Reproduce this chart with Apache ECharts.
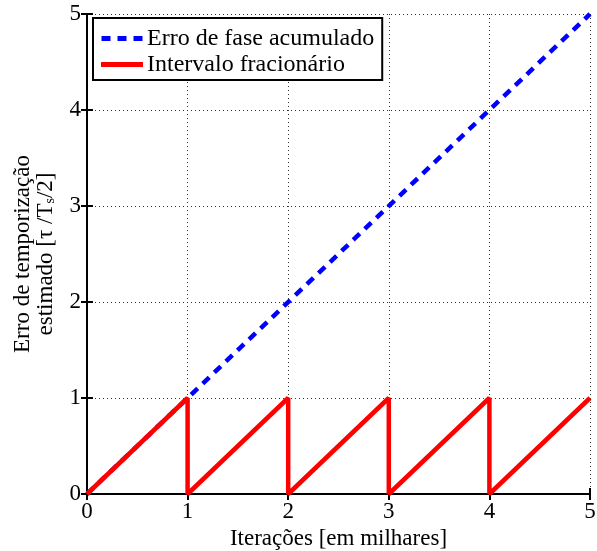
<!DOCTYPE html>
<html><head><meta charset="utf-8">
<script src="https://cdn.jsdelivr.net/npm/echarts@6/dist/echarts.min.js"></script>
<style>html,body{margin:0;padding:0;background:#fff}#c{width:597px;height:551px}</style>
</head><body><div id="c"></div>
<script>
const seriesNames = ['Erro de fase acumulado', 'Intervalo fracionário'];
const xTicks = [0, 1, 2, 3, 4, 5];
const accumX = [0, 5];
const accumY = [0, 5];
const fracX = [0, 1, 1, 2, 2, 3, 3, 4, 4, 5];
const fracY = [0, 1, 0, 1, 0, 1, 0, 1, 0, 1];

const pairs = (xs, ys) => xs.map((x, i) => [x, ys[i]]);
const F = 'Liberation Serif, Times New Roman, serif';
const FS = 23;
const chart = echarts.init(document.getElementById('c'));
const axisCommon = {
  type: 'value', min: 0, max: 5, interval: 1,
  axisLine: { show: true, lineStyle: { color: '#000', width: 2 } },
  axisTick: { show: true, inside: true, length: 6, lineStyle: { color: '#000', width: 2 } },
  axisLabel: { color: '#000', fontFamily: F, fontSize: FS },
  splitLine: { show: false }
};
const dashIcon = 'path://M0,0h9v5h-9z M16,0h9v5h-9z M32,0h9v5h-9z';
chart.setOption({
  animation: false,
  backgroundColor: '#fff',
  grid: { left: 87, right: 7, top: 14, bottom: 57, show: false, containLabel: false, outerBoundsMode: 'none' },
  legend: {
    left: 93, top: 18, orient: 'vertical',
    itemWidth: 42, itemHeight: 5, itemGap: 1,
    padding: [8, 8, 3, 8],
    borderColor: '#000', borderWidth: 2, backgroundColor: '#fff',
    textStyle: { color: '#000', fontFamily: F, fontSize: 24, lineHeight: 25, padding: [0, 0, 0, -1] },
    data: [
      { name: seriesNames[0], icon: dashIcon, itemStyle: { color: '#0000ff' } },
      { name: seriesNames[1], icon: 'rect', itemStyle: { color: '#ff0000' } }
    ]
  },
  xAxis: [
    Object.assign({}, axisCommon, {
      position: 'bottom',
      axisLabel: { color: '#000', fontFamily: F, fontSize: FS, margin: 6 },
      splitLine: { show: true, lineStyle: { color: '#333', width: 1, type: [1, 3] } },
      name: 'Iterações [em milhares]', nameLocation: 'middle', nameGap: 32,
      nameTextStyle: { color: '#000', fontFamily: F, fontSize: FS }
    }),
    Object.assign({}, axisCommon, { position: 'top', axisLabel: { show: false } })
  ],
  yAxis: [
    Object.assign({}, axisCommon, {
      position: 'left',
      axisLabel: { color: '#000', fontFamily: F, fontSize: FS, margin: 6 },
      splitLine: { show: true, lineStyle: { color: '#333', width: 1, type: [1, 3] } },
      name: '{a|Erro de temporização}\n{a|estimado [τ /T}{s|s}{a|/2]}',
      nameLocation: 'middle', nameGap: 30, nameRotate: 90,
      nameTextStyle: {
        color: '#000', fontFamily: F, fontSize: FS,
        rich: {
          a: { fontFamily: F, fontSize: FS, lineHeight: 23, color: '#000' },
          s: { fontFamily: F, fontSize: 14, lineHeight: 23, color: '#000', verticalAlign: 'bottom', padding: [18, 0, 0, 0] }
        }
      }
    }),
    Object.assign({}, axisCommon, { position: 'right', axisLabel: { show: false } })
  ],
  series: [
    {
      name: seriesNames[0], type: 'line', showSymbol: false, symbol: 'none',
      data: pairs(accumX, accumY),
      lineStyle: { color: '#0000ff', width: 4.5, type: [9, 7] },
      itemStyle: { color: '#0000ff' }, z: 2
    },
    {
      name: seriesNames[1], type: 'line', showSymbol: false, symbol: 'none',
      data: pairs(fracX, fracY),
      lineStyle: { color: '#ff0000', width: 4.5 },
      itemStyle: { color: '#ff0000' }, z: 3
    }
  ]
});
</script></body></html>
